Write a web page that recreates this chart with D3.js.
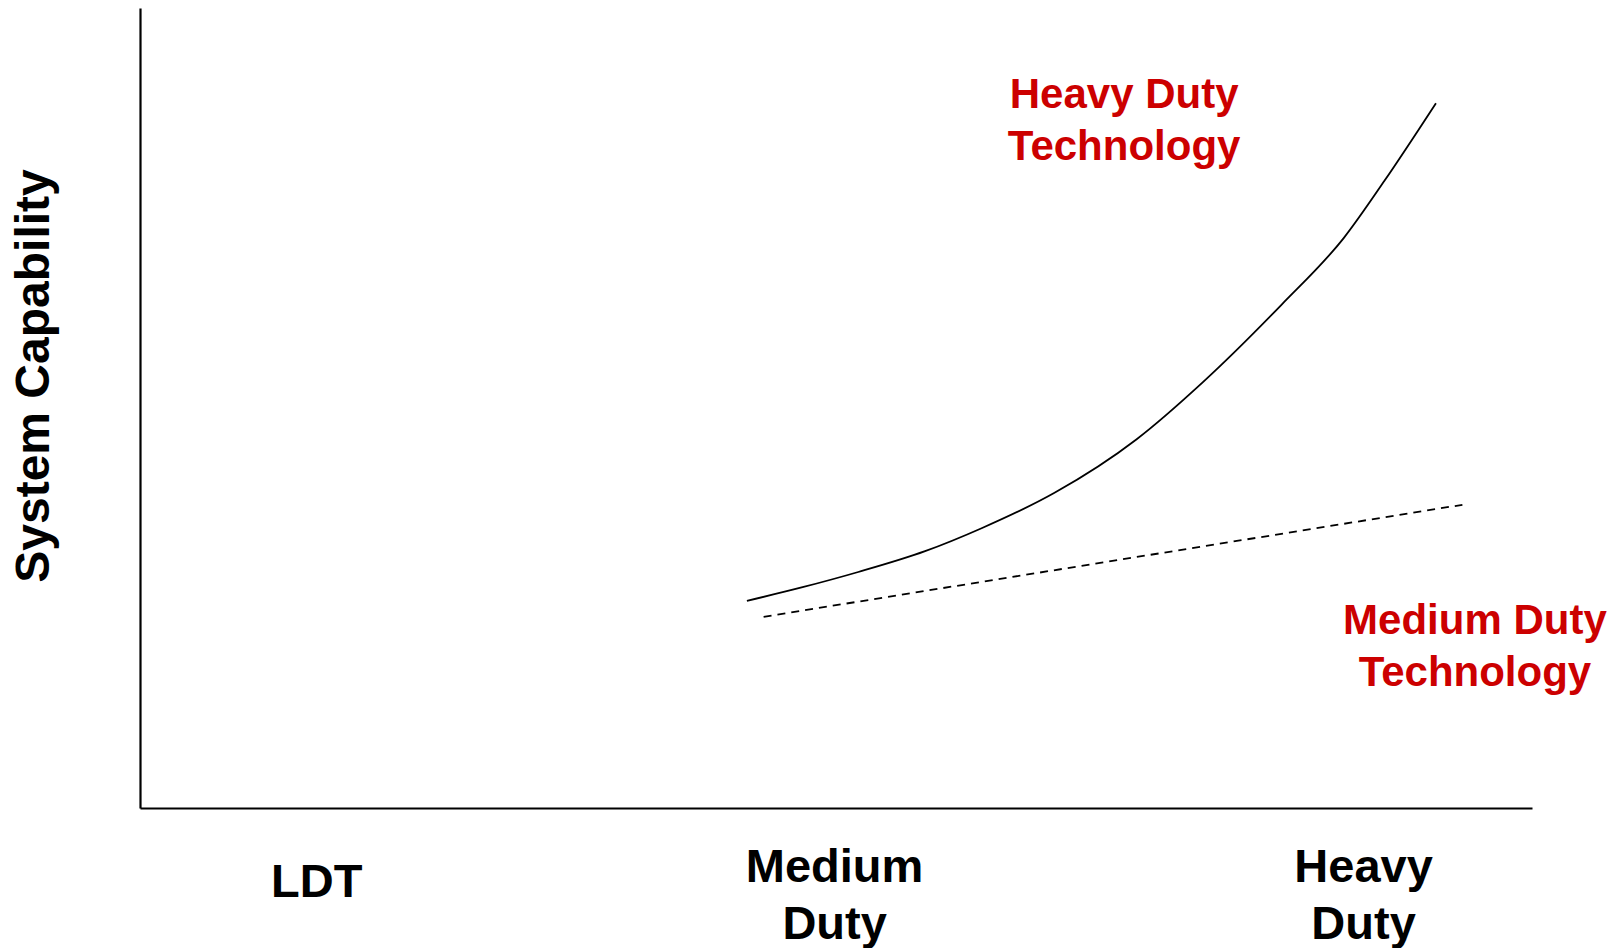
<!DOCTYPE html>
<html>
<head>
<meta charset="utf-8">
<script src="https://cdn.jsdelivr.net/npm/d3@7"></script>
<style>
  html, body { margin: 0; padding: 0; background: #fff; }
  svg { display: block; }
  text { font-family: "Liberation Sans", Arial, sans-serif; font-weight: bold; }
</style>
</head>
<body>
<svg id="chart" width="1621" height="948"></svg>
<script>
// Categories on the x axis (position in data units)
const categories = [["LDT"], ["Medium", "Duty"], ["Heavy", "Duty"]];
const categoryX = [12.7, 49.9, 87.9];

// Heavy duty technology curve (solid)
const heavyX = [43.6, 47.6, 51.6, 56.4, 60.5, 65.7, 71.6, 76.4, 82.0, 86.5, 89.4, 93.1];
const heavyY = [25.9, 27.6, 29.5, 32.1, 35.0, 39.4, 46.1, 53.3, 62.9, 71.3, 78.4, 88.1];

// Medium duty technology line (dashed)
const mediumX = [44.8, 95.0];
const mediumY = [23.9, 37.9];

// Annotations
const annotations = [
  { lines: ["Heavy Duty", "Technology"], x: 70.7, y: 87.5 },
  { lines: ["Medium Duty", "Technology"], x: 95.9, y: 21.75 }
];
const yTitle = "System Capability";

const svg = d3.select("#chart");
const x = d3.scaleLinear().domain([0, 100]).range([140, 1532]);
const y = d3.scaleLinear().domain([0, 100]).range([808, 8]);

// Axes (domain lines only)
svg.append("g").attr("transform", `translate(0,${y(0)})`)
  .call(d3.axisBottom(x).tickValues([]).tickSizeOuter(0));
svg.append("g").attr("transform", `translate(${x(0)},0)`)
  .call(d3.axisLeft(y).tickValues([]).tickSizeOuter(0));
svg.selectAll(".domain").attr("stroke", "#000").attr("stroke-width", 2.2);

// Lines
const line = d3.line().x(d => x(d[0])).y(d => y(d[1])).curve(d3.curveMonotoneX);
svg.append("path")
  .datum(heavyX.map((v, i) => [v, heavyY[i]]))
  .attr("d", line).attr("fill", "none").attr("stroke", "#000").attr("stroke-width", 1.8);

svg.append("path")
  .datum(mediumX.map((v, i) => [v, mediumY[i]]))
  .attr("d", d3.line().x(d => x(d[0])).y(d => y(d[1])))
  .attr("fill", "none").attr("stroke", "#000").attr("stroke-width", 1.8)
  .attr("stroke-dasharray", "8,6");

// Category labels
categories.forEach((lines, i) => {
  const t = svg.append("text")
    .attr("text-anchor", "middle")
    .attr("font-size", 47)
    .attr("fill", "#000");
  const baseY = lines.length === 1 ? 897 : 882;
  lines.forEach((s, j) => {
    t.append("tspan").attr("x", x(categoryX[i])).attr("y", baseY + j * 57).text(s);
  });
});

// Annotations
annotations.forEach(a => {
  const t = svg.append("text")
    .attr("text-anchor", "middle")
    .attr("font-size", 42)
    .attr("fill", "#CC0000");
  a.lines.forEach((s, j) => {
    t.append("tspan").attr("x", x(a.x)).attr("y", y(a.y) + j * 52).text(s);
  });
});

// Y title
svg.append("text")
  .attr("transform", `translate(49,${(y(0) + y(100)) / 2 - 32}) rotate(-90)`)
  .attr("text-anchor", "middle")
  .attr("font-size", 48)
  .attr("fill", "#000")
  .text(yTitle);
</script>
</body>
</html>
